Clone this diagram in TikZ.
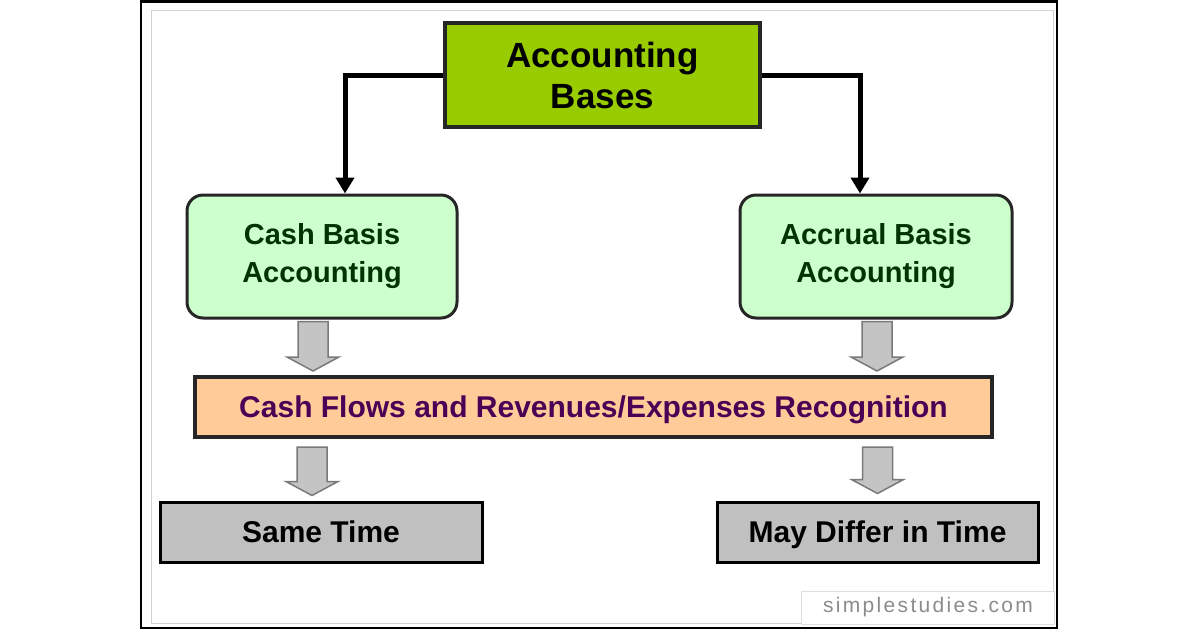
\documentclass[tikz,border=0pt]{standalone}
\usepackage{fontspec}
\setmainfont{Liberation Sans}
\usetikzlibrary{arrows.meta,calc}

\definecolor{basegreen}{HTML}{99CC00}
\definecolor{cashgreen}{HTML}{CCFFCC}
\definecolor{flowpeach}{HTML}{FFCC99}
\definecolor{flowtext}{HTML}{4B0055}
\definecolor{timegray}{HTML}{C0C0C0}
\definecolor{arrowgray}{HTML}{C4C4C4}
\definecolor{arrowedge}{HTML}{7A7A7A}
\definecolor{marktext}{HTML}{8C8C8C}

\tikzset{
  basebox/.style={draw=black!85, line width=4pt, fill=basegreen, minimum width=315pt,
    minimum height=104pt, inner sep=0pt, align=center, font=\fontsize{35}{41}\selectfont\bfseries},
  methodbox/.style={draw=black!85, line width=3pt, fill=cashgreen, rounded corners=16pt,
    minimum height=123pt, inner sep=0pt, align=center, text=green!20!black,
    font=\fontsize{29}{38}\selectfont\bfseries},
  flowbar/.style={draw=black!85, line width=4pt, fill=flowpeach, minimum width=797pt,
    minimum height=60pt, inner sep=0pt, text height=21.5pt, text depth=0pt, text=flowtext,
    font=\fontsize{30}{36}\selectfont\bfseries},
  timebox/.style={draw=black, line width=3pt, fill=timegray, minimum height=60pt,
    inner sep=0pt, text height=21.5pt, text depth=0pt, font=\fontsize{30}{36}\selectfont\bfseries},
  link/.style={line width=5pt, -{Triangle[width=18pt,length=16pt]}},
  fat arrow/.style={draw=arrowedge, fill=arrowgray, line width=1.5pt,
    to path={let \p1=(\tikztostart), \p2=(\tikztotarget) in
      (\x1-15pt,\y1) -- (\x1-15pt,\y2+14pt) -- (\x1-26pt,\y2+14pt) -- (\x1,\y2)
      -- (\x1+26pt,\y2+14pt) -- (\x1+15pt,\y2+14pt) -- (\x1+15pt,\y1) -- cycle}},
  watermark/.style={draw=gray!25, line width=1pt, fill=white, minimum width=253pt,
    minimum height=33pt, inner sep=0pt, text=marktext,
    font=\fontsize{21}{24}\selectfont\addfontfeature{LetterSpace=11}}
}

\begin{document}
\begin{tikzpicture}[x=1pt,y=-1pt]
\useasboundingbox (0,0) rectangle (1200,630);
% frame
\draw[line width=2.5pt] (141,1.5) rectangle (1057,628);
\draw[gray!35, line width=1pt] (151,10) rectangle (1053,623);

\node[basebox] (bases) at (602.5,75) {Accounting\\Bases};
\node[methodbox, minimum width=270pt] (cash) at (322,256.5) {Cash Basis\\Accounting};
\node[methodbox, minimum width=272pt] (accrual) at (876,256.5) {Accrual Basis\\Accounting};
\node[flowbar] (flow) at (593.5,407) {Cash Flows and Revenues/Expenses Recognition};
\node[timebox, minimum width=322pt] (same) at (321,532) {Same Time};
\node[timebox, minimum width=321pt] (differ) at (877.5,532) {May Differ in Time};
\node[watermark] (site) at (928,607.5) {simplestudies.com};

% connectors
\draw[link] (bases.west) -| ([xshift=23pt]cash.north);
\draw[link] (bases.east) -| ([xshift=-16pt]accrual.north);
\draw[fat arrow] ([xshift=-9pt,yshift=-2pt]cash.south) to ([yshift=4pt]cash.south |- flow.north);
\draw[fat arrow] ([xshift=1pt,yshift=-2pt]accrual.south) to ([yshift=4pt]accrual.south |- flow.north);
\draw[fat arrow] ([xshift=-9pt,yshift=-8pt]same.north |- flow.south) to ([yshift=5pt]same.north);
\draw[fat arrow] ([yshift=-8pt]differ.north |- flow.south) to ([yshift=7pt]differ.north);
\end{tikzpicture}
\end{document}
